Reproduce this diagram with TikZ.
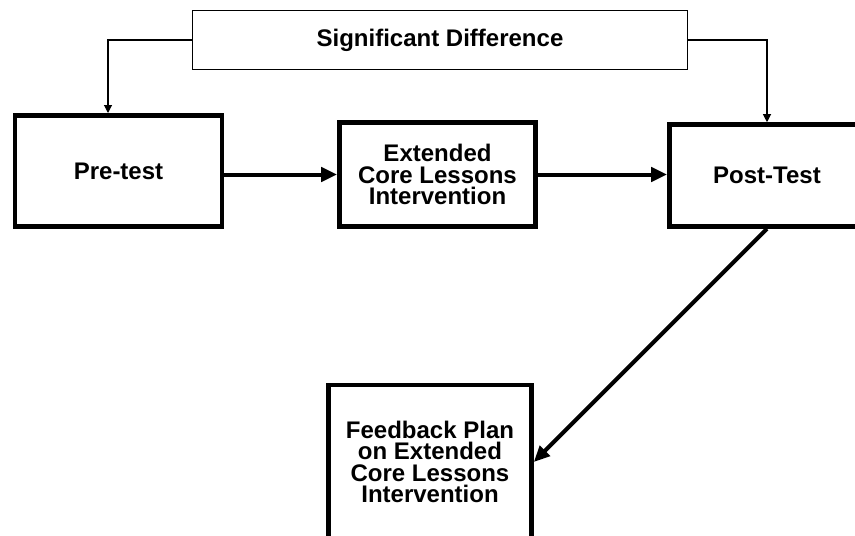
\documentclass[tikz,border=0pt]{standalone}
\usepackage{fontspec}
\setmainfont{Liberation Sans}
\usepackage{tikz}
\usetikzlibrary{positioning,arrows.meta}

\begin{document}
\begin{tikzpicture}[
  x=0.5pt, y=-0.5pt,
  font=\fontsize{12}{10.6}\selectfont\bfseries,
  stage/.style={draw, line width=2.3pt, align=center, inner sep=0pt},
  result/.style={draw, line width=0.65pt, align=center, inner sep=0pt,
                 minimum width=247.5pt, minimum height=29.5pt},
  arr/.style={-{Triangle[length=8pt, width=7pt]}, line width=2pt},
  link/.style={-{Triangle[length=4pt, width=4pt]}, line width=0.55pt}]
\useasboundingbox (0,0) rectangle (855,535);
\node[result] (sig) at (440,40) {Significant Difference};
\node[stage, minimum width=103.5pt, minimum height=55.5pt] (pre) at (118.5,171) {Pre-test};
\node[stage, minimum width=98pt, minimum height=52pt] (ext) at (437.5,174.5)
  {Extended\\Core Lessons\\Intervention};
\node[stage, minimum width=97.5pt, minimum height=51pt] (post) at (767,175.5) {Post-Test};
\node[stage, minimum width=101.5pt, minimum height=77pt] (fb) at (430,462)
  {Feedback Plan\\on Extended\\Core Lessons\\Intervention};
\coordinate (preIn) at (108,113);
\draw[link] (sig.west) -| (preIn);
\draw[link] (sig.east) -| (post.north);
\draw[arr] (pre.east |- ext) -- (ext.west);
\draw[arr] (ext.east) -- (post.west |- ext);
\draw[arr] (post.south) -- (fb.east);
\end{tikzpicture}
\end{document}
